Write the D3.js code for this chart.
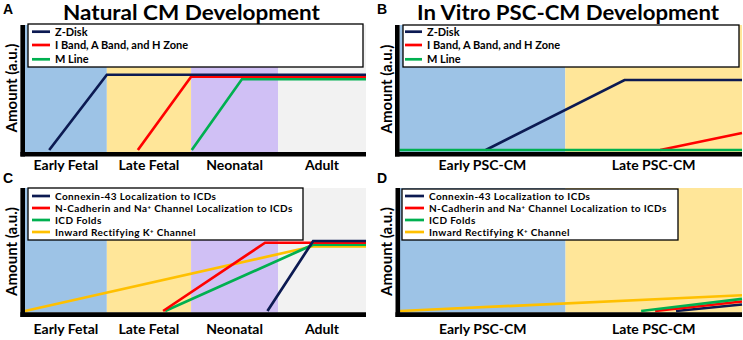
<!DOCTYPE html>
<html>
<head>
<meta charset="utf-8">
<script src="https://cdn.jsdelivr.net/npm/d3@7"></script>
<style>
  html, body { margin: 0; padding: 0; background: #fff; }
  svg { display: block; }
  text { font-family: Lato, "Open Sans", sans-serif; font-weight: 700; fill: #000; }
</style>
</head>
<body>
<svg id="chart" width="743" height="340"></svg>
<script>
// ---------- DATA ----------
const panelLetters = ["A", "B", "C", "D"];
const panelTitles = ["Natural CM Development", "In Vitro PSC-CM Development"];
const yAxisLabel = "Amount (a.u.)";

const stagesNatural = ["Early Fetal", "Late Fetal", "Neonatal", "Adult"];
const stageBoundsNatural = [0, 24.0, 48.7, 74.2, 100];   // % of time axis
const stagesVitro = ["Early PSC-CM", "Late PSC-CM"];
const stageBoundsVitro = [0, 48.4, 100];

const sarcomereSeries = ["Z-Disk", "I Band, A Band, and H Zone", "M Line"];
const icdSeries = [
  ["Connexin-43 Localization to ICDs"],
  ["N-Cadherin and Na", "+", " Channel Localization to ICDs"],
  ["ICD Folds"],
  ["Inward Rectifying K", "+", " Channel"]
];

// [time %, amount %]
const naturalZDisk = [[7.1, 0], [24.0, 60.2], [100, 60.2]];
const naturalIBand = [[33.1, 0], [48.7, 58.6], [100, 58.6]];
const naturalMLine = [[48.9, 0], [63.6, 56.6], [100, 56.6]];

const vitroZDisk = [[25.2, 0], [65.7, 56], [100, 56]];
const vitroIBand = [[76.1, 0], [100, 13.6]];
const vitroMLine = [[0, 0], [100, 0]];

const naturalCx43 = [[71.1, 0], [84.5, 56.9], [100, 56.9]];
const naturalNCad = [[40.5, 0], [70.4, 55.5], [100, 55.5]];
const naturalFolds = [[41.1, 0], [84.5, 53.9], [100, 53.9]];
const naturalKir = [[0, 0], [84.5, 52.6], [100, 52.6]];

const vitroCx43 = [[80.7, 0], [100, 5.3]];
const vitroNCad = [[74.6, 0], [100, 7.7]];
const vitroFolds = [[70.5, 0], [100, 9.8]];
const vitroKir = [[0, 0], [100, 12.8]];

// ---------- STYLE ----------
const stageColorsNatural = ["#9dc3e6", "#ffe699", "#d0c0f5", "#f2f2f2"];
const stageColorsVitro = ["#9dc3e6", "#ffe699"];
const sarcomereColors = ["#0c1a52", "#ff0000", "#00b050"];
const icdColors = ["#0c1a52", "#ff0000", "#00b050", "#ffc000"];

const svg = d3.select("#chart");

// titles & letters
const letterPos = [[3, 14], [377, 14], [3, 183], [377, 183]];
panelLetters.forEach((l, i) => {
  svg.append("text").attr("x", letterPos[i][0]).attr("y", letterPos[i][1])
    .style("font-family", "'Liberation Sans', Arial, sans-serif").style("font-size", "14px").text(l);
});

svg.append("text").attr("x", 191.5).attr("y", 20).attr("text-anchor", "middle")
  .attr("textLength", 257).attr("lengthAdjust", "spacingAndGlyphs")
  .style("font-size", "20px").text(panelTitles[0]);
svg.append("text").attr("x", 568).attr("y", 20).attr("text-anchor", "middle")
  .attr("textLength", 302).attr("lengthAdjust", "spacingAndGlyphs")
  .style("font-size", "20px").text(panelTitles[1]);

function drawPanel(cfg) {
  const g = svg.append("g");
  const x = d3.scaleLinear().domain([0, 100]).range([cfg.left, cfg.right]);
  const y = d3.scaleLinear().domain([0, 100]).range([cfg.base, cfg.top]);

  // stage backgrounds
  const bands = cfg.stages.map((s, i) => ({ name: s, x0: cfg.bounds[i], x1: cfg.bounds[i + 1], color: cfg.stageColors[i] }));
  g.selectAll("rect.band").data(bands).join("rect")
    .attr("class", "band")
    .attr("x", d => x(d.x0)).attr("width", d => x(d.x1) - x(d.x0))
    .attr("y", cfg.top).attr("height", cfg.bandBottom - cfg.top)
    .attr("fill", d => d.color);

  // series lines
  const line = d3.line().x(d => x(d[0])).y(d => y(d[1]));
  cfg.drawOrder.forEach(i => {
    g.append("path").datum(cfg.series[i])
      .attr("d", line).attr("fill", "none")
      .attr("stroke", cfg.colors[i]).attr("stroke-width", 2.7)
      .attr("stroke-linejoin", "miter");
  });

  // axes (thick black bars, no ticks)
  const xAxis = d3.axisBottom(x).tickValues([]).tickSizeOuter(0);
  const ax = g.append("g").attr("transform", `translate(0,${cfg.axisY})`).call(xAxis);
  ax.select(".domain").attr("stroke", "#000").attr("stroke-width", 4.6)
    .attr("d", `M${cfg.axisX - 2.3},0H${cfg.right}`);
  const yAx = d3.axisLeft(y).tickValues([]).tickSizeOuter(0);
  const ay = g.append("g").attr("transform", `translate(${cfg.axisX},0)`).call(yAx);
  ay.select(".domain").attr("stroke", "#000").attr("stroke-width", 4.6)
    .attr("d", `M0,${cfg.top}V${cfg.axisY + 2.3}`);

  // stage labels
  g.selectAll("text.stage").data(bands).join("text")
    .attr("class", "stage")
    .attr("x", d => x((d.x0 + d.x1) / 2)).attr("y", cfg.labelY)
    .attr("text-anchor", "middle").style("font-size", "14px")
    .text(d => d.name);

  // y label
  g.append("text")
    .attr("transform", `translate(${cfg.yLabelX},${cfg.yLabelY}) rotate(-90)`)
    .attr("text-anchor", "middle").style("font-size", "15px")
    .text(yAxisLabel);

  // legend
  const L = cfg.legend;
  g.append("rect").attr("x", L.x).attr("y", L.y).attr("width", L.w).attr("height", L.h)
    .attr("fill", "#fff").attr("stroke", "#000").attr("stroke-width", 1.3);
  cfg.labels.forEach((lab, i) => {
    const yy = L.rows[i];
    g.append("line").attr("x1", L.lx0).attr("x2", L.lx1).attr("y1", yy).attr("y2", yy)
      .attr("stroke", cfg.colors[i]).attr("stroke-width", 2.7);
    const t = g.append("text").attr("x", L.tx).attr("y", yy + L.fs * 0.35)
      .style("font-size", L.fs + "px").style("letter-spacing", L.ls + "px");
    const parts = Array.isArray(lab) ? lab : [lab];
    parts.forEach(p => {
      if (p === "+") {
        t.append("tspan").attr("baseline-shift", "super").style("font-size", (L.fs * 0.6) + "px").text(p);
      } else {
        t.append("tspan").text(p);
      }
    });
  });
}

drawPanel({
  left: 25, right: 366, top: 25, base: 150, bandBottom: 152, axisY: 154.2, axisX: 22.7,
  stages: stagesNatural, bounds: stageBoundsNatural, stageColors: stageColorsNatural,
  series: [naturalZDisk, naturalIBand, naturalMLine], colors: sarcomereColors, labels: sarcomereSeries,
  drawOrder: [2, 1, 0], labelY: 170, yLabelX: 17, yLabelY: 88,
  legend: { x: 28, y: 24, w: 335, h: 43, rows: [31.7, 45, 59.3], lx0: 32, lx1: 50, tx: 55, fs: 11, ls: 0 }
});

drawPanel({
  left: 399.5, right: 742, top: 25, base: 150, bandBottom: 152, axisY: 154.2, axisX: 397.3,
  stages: stagesVitro, bounds: stageBoundsVitro, stageColors: stageColorsVitro,
  series: [vitroZDisk, vitroIBand, vitroMLine], colors: sarcomereColors, labels: sarcomereSeries,
  drawOrder: [0, 1, 2], labelY: 170, yLabelX: 391.5, yLabelY: 89,
  legend: { x: 403, y: 25, w: 336, h: 42, rows: [31.7, 45, 59.3], lx0: 405, lx1: 422, tx: 427, fs: 11, ls: 0 }
});

drawPanel({
  left: 25, right: 366, top: 188, base: 311, bandBottom: 312.5, axisY: 314.6, axisX: 22.7,
  stages: stagesNatural, bounds: stageBoundsNatural, stageColors: stageColorsNatural,
  series: [naturalCx43, naturalNCad, naturalFolds, naturalKir], colors: icdColors, labels: icdSeries,
  drawOrder: [3, 2, 1, 0], labelY: 333.5, yLabelX: 17, yLabelY: 251.5,
  legend: { x: 28, y: 188, w: 275, h: 52, rows: [196, 208, 220, 232], lx0: 32, lx1: 50, tx: 55, fs: 10, ls: 0.4 }
});

drawPanel({
  left: 400, right: 742, top: 188, base: 311, bandBottom: 312.5, axisY: 314.6, axisX: 397.8,
  stages: stagesVitro, bounds: stageBoundsVitro, stageColors: stageColorsVitro,
  series: [vitroCx43, vitroNCad, vitroFolds, vitroKir], colors: icdColors, labels: icdSeries,
  drawOrder: [3, 0, 1, 2], labelY: 333.5, yLabelX: 391.5, yLabelY: 251.5,
  legend: { x: 402, y: 189, w: 276, h: 51, rows: [196, 208, 220, 232], lx0: 405, lx1: 424, tx: 429, fs: 10, ls: 0.4 }
});
</script>
</body>
</html>
